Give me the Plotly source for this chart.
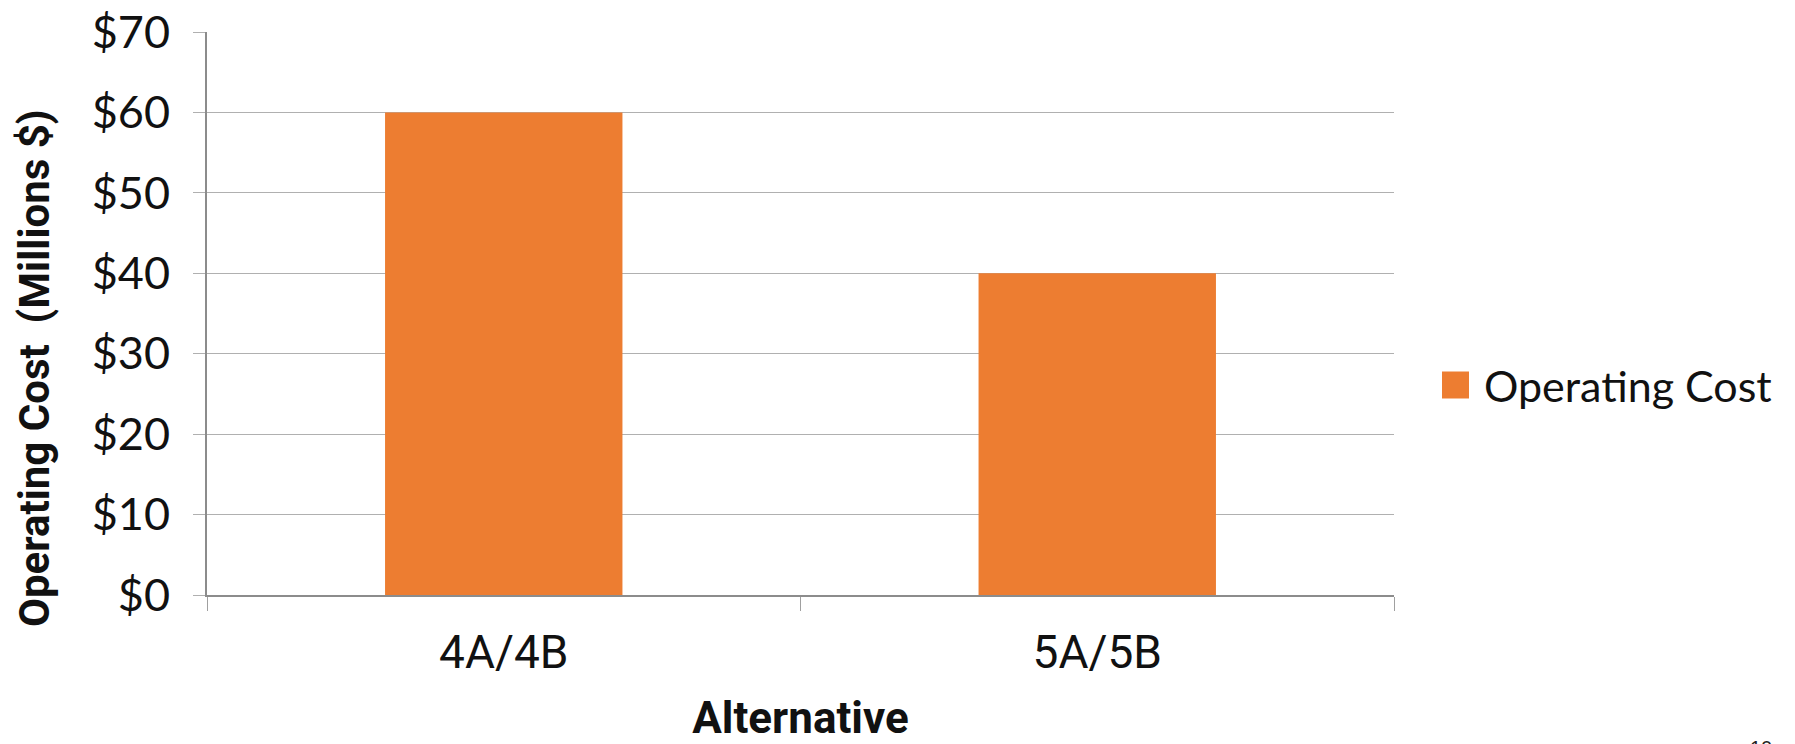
import plotly.graph_objects as go

# Operating cost by alternative (millions of dollars)
alternatives = ["4A/4B", "5A/5B"]
operating_cost = [60, 40]
y_tick_values = [0, 10, 20, 30, 40, 50, 60, 70]
y_tick_labels = ["$0", "$10", "$20", "$30", "$40", "$50", "$60", "$70"]
series_name = "Operating Cost"
bar_color = "#ED7D31"

W, H = 1795, 744
L, R, T, B = 207, 401, 32, 149
PW, PH = W - L - R, H - T - B


def px_to_paper(x=None, y=None):
    """Convert page pixel positions to paper coordinates."""
    px = None if x is None else (x - L) / PW
    py = None if y is None else (H - B - y) / PH
    return px, py


fig = go.Figure()
fig.add_trace(go.Bar(
    x=alternatives,
    y=operating_cost,
    name=series_name,
    marker=dict(color=bar_color, line=dict(width=0)),
    showlegend=False,
))

fig.update_layout(
    width=W, height=H,
    margin=dict(l=L, r=R, t=T, b=B, pad=0, autoexpand=False),
    paper_bgcolor="white",
    plot_bgcolor="white",
    bargap=0.6,
    font=dict(family="Lato, 'Open Sans', sans-serif", color="#111111"),
    showlegend=False,
    xaxis=dict(
        type="category",
        automargin=False,
        tickson="boundaries",
        ticks="outside", ticklen=14, tickcolor="#a0a0a0", tickwidth=1,
        showgrid=False,
        showline=True, linecolor="#8c8c8c", linewidth=2,
        tickfont=dict(size=46, family="Roboto, sans-serif", color="#111111"),
        ticklabelstandoff=16,
        title=dict(text="<b>Alternative</b>", standoff=37,
                   font=dict(size=44, family="Roboto, sans-serif", color="#111111")),
        range=[-0.5, 1.5],
    ),
    yaxis=dict(
        range=[0, 70],
        automargin=False,
        tickvals=y_tick_values,
        ticktext=y_tick_labels,
        ticks="outside", ticklen=12, tickcolor="#b0b0b0", tickwidth=1,
        showgrid=True, gridcolor="#b0b0b0", gridwidth=1,
        zeroline=False,
        showline=True, linecolor="#8c8c8c", linewidth=2,
        tickfont=dict(size=45, family="Lato, sans-serif", color="#111111"),
        ticklabelstandoff=14,
    ),
)

# y-axis title, placed by hand
tx, ty = px_to_paper(34, 368)
fig.add_annotation(
    text="<b>Operating Cost  (Millions $)</b>", xref="paper", yref="paper",
    x=tx, y=ty, xanchor="center", yanchor="middle", textangle=-90,
    showarrow=False,
    font=dict(size=42, family="Roboto, sans-serif", color="#111111"),
)

# legend: swatch plus label to the right of the plot
sw_x0, sw_size, leg_y = 1442, 27, 385
x0, y0 = px_to_paper(sw_x0, leg_y + sw_size / 2)
x1, y1 = px_to_paper(sw_x0 + sw_size, leg_y - sw_size / 2)
fig.add_shape(
    type="rect", xref="paper", yref="paper",
    x0=x0, x1=x1, y0=y0, y1=y1,
    fillcolor=bar_color, line=dict(width=0),
)
lx, ly = px_to_paper(1482, leg_y)
fig.add_annotation(
    text=series_name, xref="paper", yref="paper",
    x=lx, y=ly, xanchor="left", yanchor="middle", showarrow=False,
    font=dict(size=43, family="Lato, sans-serif", color="#111111"),
)

# page number in the corner
nx, ny = px_to_paper(1761, 735)
fig.add_annotation(
    text="10", xref="paper", yref="paper",
    x=nx, y=ny, showarrow=False, xanchor="center", yanchor="top",
    font=dict(size=20, family="Liberation Sans, sans-serif", color="#222222"),
)

fig.write_html("out.html")
